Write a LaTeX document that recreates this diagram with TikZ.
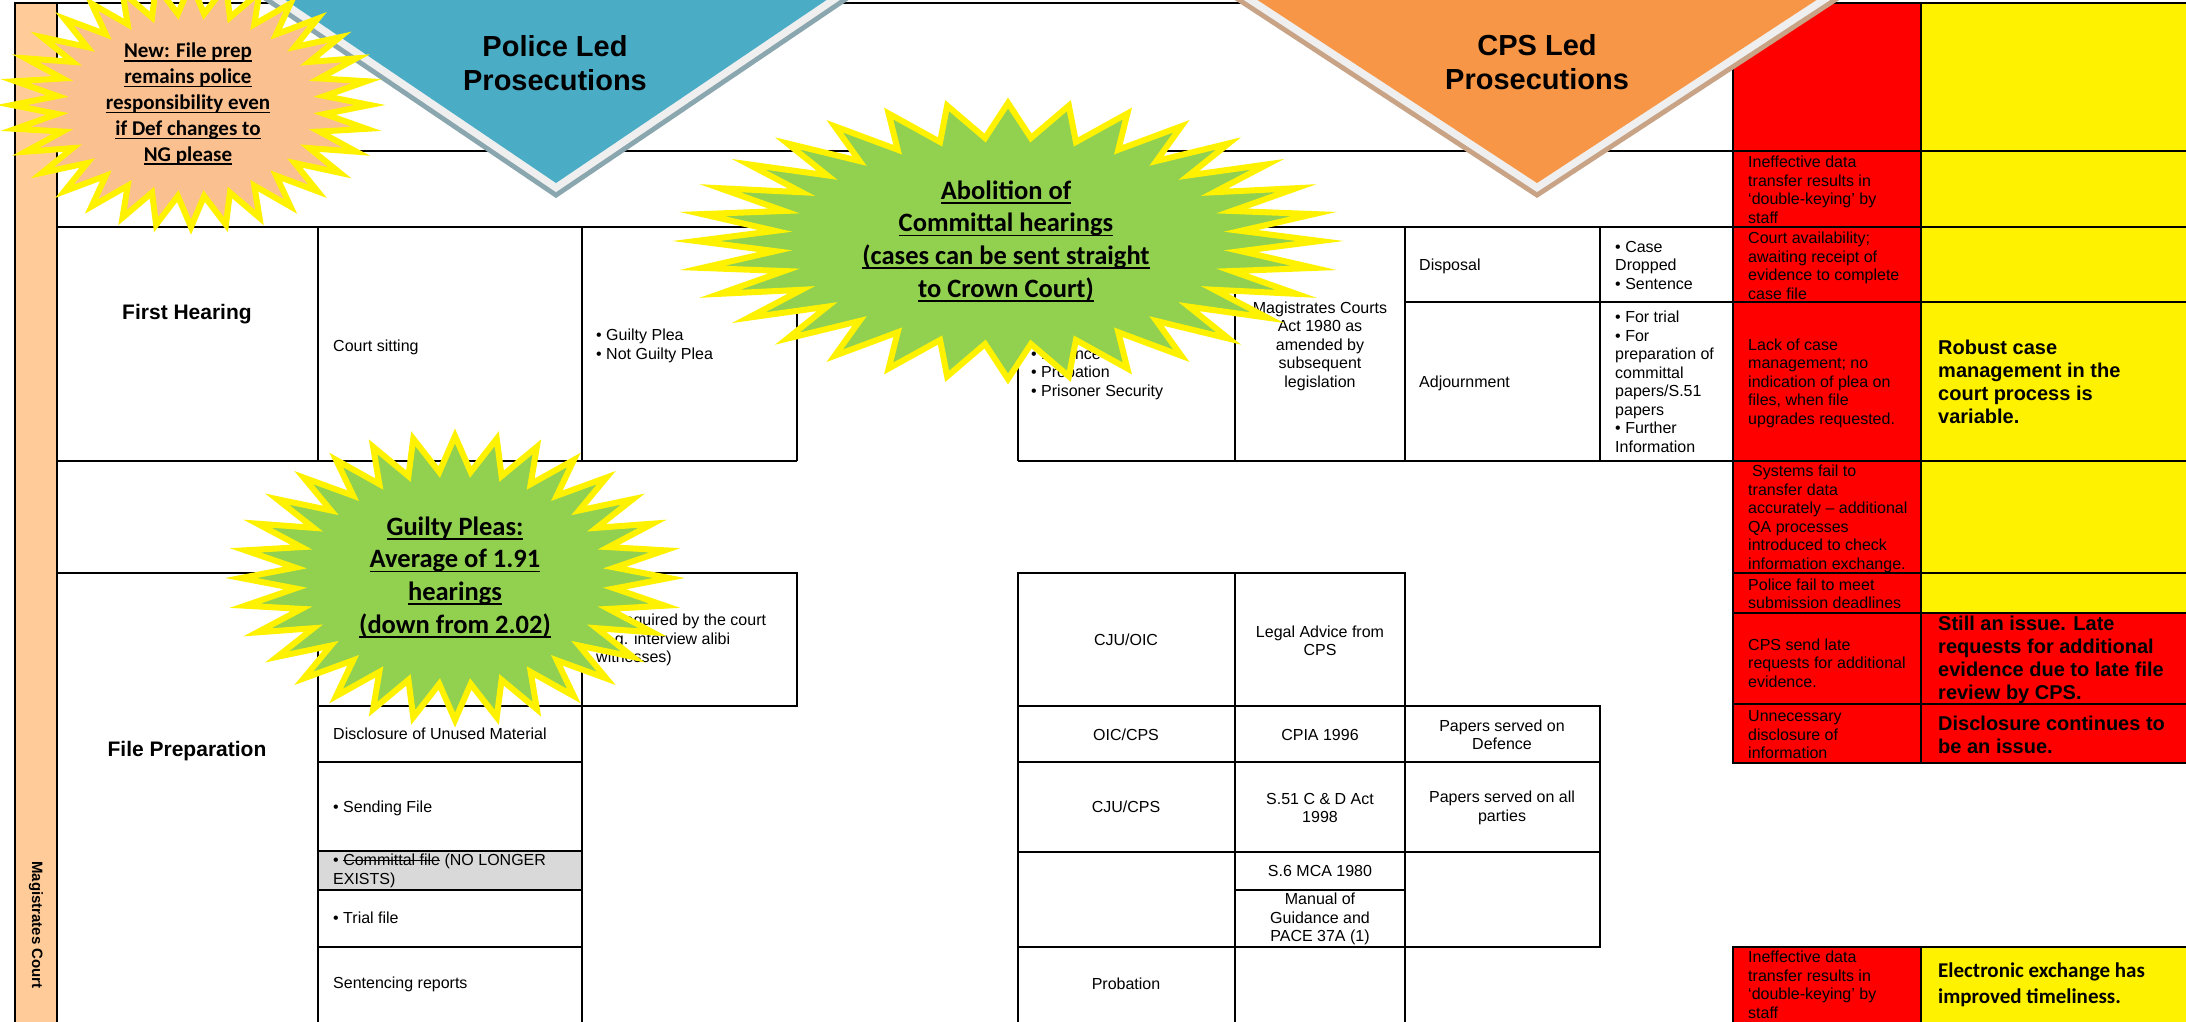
\documentclass[tikz,border=0pt]{standalone}
\usepackage{fontspec}
\setmainfont{Liberation Sans}
\newfontfamily\calibri{Carlito}

\definecolor{policeblue}{HTML}{4BACC6}
\definecolor{cpsorange}{HTML}{F79646}
\definecolor{barpeach}{HTML}{FFCC99}
\definecolor{burstpeach}{HTML}{FAC090}
\definecolor{burstgreen}{HTML}{92D050}
\definecolor{rimgrey}{HTML}{EFEFEF}
\definecolor{blueshadow}{HTML}{8AA6AE}
\definecolor{orangeshadow}{HTML}{C9A385}
\definecolor{lapsed}{HTML}{D9D9D9}

\newsavebox{\markbox}
\newcommand{\uln}[1]{\sbox{\markbox}{#1}\rlap{\rule[-0.17em]{\wd\markbox}{0.06em}}\usebox{\markbox}}
\newcommand{\strike}[1]{\sbox{\markbox}{#1}\rlap{\rule[0.3em]{\wd\markbox}{0.07em}}\usebox{\markbox}}

% style, centre x, centre y, radius x, radius y (32 points)
\newcommand{\starburst}[5]{%
  \filldraw[#1] ({#2},{#3-#5})
    \foreach \k in {1,...,63}{ -- ({#2+#4*(1-0.25*mod(\k,2))*sin(5.625*\k)},{#3-#5*(1-0.25*mod(\k,2))*cos(5.625*\k)}) }
    -- cycle;}

\begin{document}
\begin{tikzpicture}[x=1pt,y=-1pt,
  grid/.style={line width=2.4pt},
  cell/.style={font=\fontsize{16}{18.5}\selectfont, inner sep=0pt, align=left, anchor=west},
  cellc/.style={font=\fontsize{16}{18.5}\selectfont, inner sep=0pt, align=center},
  stagelabel/.style={font=\bfseries\fontsize{21}{25}\selectfont},
  verdict/.style={font=\bfseries\fontsize{20}{23}\selectfont, inner sep=0pt, align=left, anchor=west},
  banner/.style={font=\bfseries\fontsize{29}{34}\selectfont, align=center},
  burst/.style={draw=yellow, line width=6pt},
  bursttext/.style={font=\calibri\bfseries\fontsize{26.5}{32.7}\selectfont, align=center, inner sep=0pt}]
\useasboundingbox (0,0) rectangle (2186,1021);
\clip (0,0) rectangle (2186,1021);

% court bar
\draw[grid, fill=barpeach] (15,3) rectangle (57,1040);
\node[rotate=-90, font=\bfseries\fontsize{15}{18}\selectfont] (court) at (36,925) {Magistrates Court};

% issues and progress
\foreach \ya/\yb/\fillcol in {3/151/yellow,151/227/yellow,227/302/yellow,302/461/yellow,461/573/yellow,573/613/yellow,613/704/red,704/763/red,947/1040/yellow}{
  \draw[grid, fill=red] (1733,\ya) rectangle (1921,\yb);
  \draw[grid, fill=\fillcol] (1921,\ya) rectangle (2200,\yb);
}
\node[cell] (issue1) at (1748,190) {Ineffective data\\transfer results in\\‘double-keying’ by\\staff};
\node[cell] (issue2) at (1748,266) {Court availability;\\awaiting receipt of\\evidence to complete\\case file};
\node[cell] (issue3) at (1748,383) {Lack of case\\management; no\\indication of plea on\\files, when file\\upgrades requested.};
\node[verdict] (progress3) at (1938,382) {Robust case\\management in the\\court process is\\variable.};
\node[cell] (issue4) at (1748,519) {\hspace{4pt}Systems fail to\\transfer data\\accurately – additional\\QA processes\\introduced to check\\information exchange.};
\node[cell] (issue5) at (1748,594) {Police fail to meet\\submission deadlines};
\node[cell] (issue6) at (1748,663) {CPS send late\\requests for additional\\evidence.};
\node[verdict] (progress6) at (1938,660) {Still an issue. Late\\requests for additional\\evidence due to late file\\review by CPS.};
\node[cell] (issue7) at (1748,735) {Unnecessary\\disclosure of\\information};
\node[verdict] (progress7) at (1938,735) {Disclosure continues to\\be an issue.};
\node[cell] (issue8) at (1748,985) {Ineffective data\\transfer results in\\‘double-keying’ by\\staff};
\node[verdict, font=\calibri\bfseries\fontsize{21}{26}\selectfont] (progress8) at (1938,985) {Electronic exchange has\\improved timeliness.};

% table rules
\draw[grid] (57,3) -- (1733,3);
\draw[grid] (57,151) -- (1733,151);
\draw[grid] (57,227) -- (1733,227);
\draw[grid] (57,461) -- (797,461) (1018,461) -- (1733,461);
\draw[grid] (57,573) -- (797,573);
% first hearing
\draw[grid] (318,227) -- (318,461) (582,227) -- (582,461) (797,227) -- (797,461);
\draw[grid] (1018,227) -- (1018,461) (1235,227) -- (1235,461) (1405,227) -- (1405,461) (1600,227) -- (1600,461);
\draw[grid] (1405,302) -- (1733,302);
% file preparation, police side
\draw[grid] (318,573) rectangle (797,706);
\draw[grid] (582,573) -- (582,706);
\foreach \ya/\yb in {706/762,762/851,890/947,947/1040} \draw[grid] (318,\ya) rectangle (582,\yb);
\draw[grid, fill=lapsed] (318,851) rectangle (582,890);
% file preparation, CPS side
\draw[grid] (1018,573) rectangle (1405,1040);
\draw[grid] (1235,573) -- (1235,1040);
\draw[grid] (1018,706) -- (1600,706) -- (1600,947) -- (1018,947);
\draw[grid] (1018,762) -- (1600,762) (1018,852) -- (1600,852) (1235,890) -- (1405,890);

\node[stagelabel] (firsthearing) at (187,314) {First Hearing};
\node[cell] (courtsitting) at (333,347) {Court sitting};
\node[cell] (pleas) at (596,346) {• Guilty Plea\\• Not Guilty Plea};
\node[cell] (present) at (1031,346) {• Magistrates\\• Legal Adviser and\\Court staff\\• Defence\\• Probation\\• Prisoner Security};
\node[cellc] (mca) at (1320,346) {Magistrates Courts\\Act 1980 as\\amended by\\subsequent\\legislation};
\node[cell] (disposal) at (1419,266) {Disposal};
\node[cell] (adjourn) at (1419,383) {Adjournment};
\node[cell] (disposalwhy) at (1615,265) {• Case\\Dropped\\• Sentence};
\node[cell] (adjournwhy) at (1615,382) {• For trial\\• For\\preparation of\\committal\\papers/S.51\\papers\\• Further\\Information};

\node[stagelabel] (fileprep) at (187,751) {File Preparation};
\node[cell] (asrequired) at (596,640) {As required by the court\\(e.g. interview alibi\\witnesses)};
\node[cell] (unused) at (333,734) {Disclosure of Unused Material};
\node[cell] (sending) at (333,808) {• Sending File};
\node[cell] (committal) at (333,871) {• \strike{Committal file} (NO LONGER\\EXISTS)};
\node[cell] (trial) at (333,918) {• Trial file};
\node[cell] (sentencing) at (333,984) {Sentencing reports};
\node[cellc] (cjuoic) at (1126,640) {CJU/OIC};
\node[cellc] (advice) at (1320,641) {Legal Advice from\\CPS};
\node[cellc] (oiccps) at (1126,735) {OIC/CPS};
\node[cellc] (cpia) at (1320,735) {CPIA 1996};
\node[cellc] (defence) at (1502,735) {Papers served on\\Defence};
\node[cellc] (cjucps) at (1126,807) {CJU/CPS};
\node[cellc] (sfiftyone) at (1320,808) {S.51 C \& D Act\\1998};
\node[cellc] (parties) at (1502,808) {Papers served on all\\parties};
\node[cellc] (ssix) at (1320,871) {S.6 MCA 1980};
\node[cellc] (manual) at (1320,919) {Manual of\\Guidance and\\PACE 37A (1)};
\node[cellc] (probation) at (1126,984) {Probation};

% prosecution banners
\filldraw[blueshadow, line width=15pt] (256,-14) -- (856,-14) -- (556,189) -- cycle;
\filldraw[rimgrey, line width=15pt] (256,-20) -- (856,-20) -- (556,183) -- cycle;
\fill[policeblue] (256,-20) -- (856,-20) -- (556,183) -- cycle;
\node[banner] (police) at (555,63) {Police Led\\Prosecutions};
\filldraw[orangeshadow, line width=15pt] (1227,-14) -- (1847,-14) -- (1537,189) -- cycle;
\filldraw[rimgrey, line width=15pt] (1227,-20) -- (1847,-20) -- (1537,183) -- cycle;
\fill[cpsorange] (1227,-20) -- (1847,-20) -- (1537,183) -- cycle;
\node[banner] (cps) at (1537,62) {CPS Led\\Prosecutions};

% call-outs
\starburst{burst, fill=burstpeach}{191}{105}{179}{122}
\node[bursttext, font=\calibri\bfseries\fontsize{21}{25.8}\selectfont] (newprep) at (188,104) {\uln{New: File prep}\\\uln{remains police}\\\uln{responsibility even}\\\uln{if Def changes to}\\\uln{NG please}};
\starburst{burst, fill=burstgreen}{1008}{241}{312}{138}
\node[bursttext] (abolition) at (1006,241) {\uln{Abolition of}\\\uln{Committal hearings}\\\uln{(cases can be sent straight}\\\uln{to Crown Court)}};
\starburst{burst, fill=burstgreen}{455}{578}{214}{142}
\node[bursttext] (guilty) at (455,577) {\uln{Guilty Pleas:}\\\uln{Average of 1.91}\\\uln{hearings}\\\uln{(down from 2.02)}};
\end{tikzpicture}
\end{document}
